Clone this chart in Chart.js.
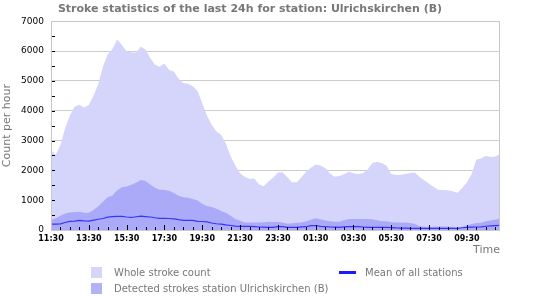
<!DOCTYPE html>
<html>
<head>
<meta charset="utf-8">
<script src="https://cdn.jsdelivr.net/npm/chart.js@4.4.1/dist/chart.umd.min.js"></script>
<style>
  html, body { margin: 0; padding: 0; background: #fff; }
  #wrap { position: relative; width: 550px; height: 300px; }
  #c { position: absolute; left: 0; top: 0; }
  .lg { position: absolute; font-family: "DejaVu Sans", sans-serif; font-size: 10px; color: #777; white-space: nowrap; line-height: 12px; }
  .sw { position: absolute; width: 11px; height: 11px; }
  .ln { position: absolute; width: 17px; height: 3px; background: #1a1aff; }
</style>
</head>
<body>
<div id="wrap">
  <canvas id="c" width="550" height="300"></canvas>
  <div class="sw" style="left:91px;top:267px;background:#d6d6fb;"></div>
  <div class="lg" style="left:114px;top:267px;">Whole stroke count</div>
  <div class="sw" style="left:91px;top:283px;background:#b2b2f7;"></div>
  <div class="lg" style="left:114px;top:283px;">Detected strokes station Ulrichskirchen (B)</div>
  <div class="ln" style="left:339px;top:271px;"></div>
  <div class="lg" style="left:365px;top:267px;">Mean of all stations</div>
</div>
<script>
const times = ["11:30","11:45","12:00","12:15","12:30","12:45","13:00","13:15","13:30","13:45","14:00","14:15","14:30","14:45","15:00","15:15","15:30","15:45","16:00","16:15","16:30","16:45","17:00","17:15","17:30","17:45","18:00","18:15","18:30","18:45","19:00","19:15","19:30","19:45","20:00","20:15","20:30","20:45","21:00","21:15","21:30","21:45","22:00","22:15","22:30","22:45","23:00","23:15","23:30","23:45","00:00","00:15","00:30","00:45","01:00","01:15","01:30","01:45","02:00","02:15","02:30","02:45","03:00","03:15","03:30","03:45","04:00","04:15","04:30","04:45","05:00","05:15","05:30","05:45","06:00","06:15","06:30","06:45","07:00","07:15","07:30","07:45","08:00","08:15","08:30","08:45","09:00","09:15","09:30","09:45","10:00","10:15","10:30","10:45","11:00","11:15"];

const tickLabels = ["11:30","13:30","15:30","17:30","19:30","21:30","23:30","01:30","03:30","05:30","07:30","09:30"];

const wholeCount = [2680,2520,2850,3420,3850,4130,4200,4110,4190,4510,4890,5480,5890,6070,6390,6200,5990,5950,5950,6140,6050,5770,5540,5475,
  5580,5360,5310,5070,4930,4900,4820,4660,4260,3830,3530,3300,3190,2900,2470,2160,1900,1780,1715,1725,1530,1465,1630,1750,
  1930,1940,1770,1605,1600,1770,1960,2085,2200,2165,2080,1905,1785,1810,1870,1955,1900,1875,1900,2025,2250,2290,2245,2150,
  1880,1840,1855,1875,1910,1925,1770,1665,1550,1440,1340,1340,1330,1300,1250,1410,1600,1880,2360,2400,2490,2450,2460,2540];

const detectedStation = [335,395,480,555,590,605,610,582,580,670,800,950,1100,1160,1330,1435,1455,1520,1580,1675,1640,1525,1415,1350,
  1340,1320,1240,1150,1100,1080,1040,985,880,805,770,710,635,575,475,370,310,255,255,255,255,260,280,265,
  275,255,210,225,240,255,290,340,390,360,320,290,280,280,330,365,370,370,370,370,360,330,295,290,
  260,255,255,250,235,200,125,110,110,112,117,118,112,110,95,110,160,200,235,245,290,320,345,385];

const meanAll = [200,200,205,250,290,298,325,305,300,330,360,385,430,450,460,455,435,420,445,468,450,435,410,390,
  390,385,375,345,325,325,325,290,285,270,235,210,195,170,150,130,120,120,120,110,100,95,90,90,
  110,110,90,90,90,105,110,145,150,120,110,100,95,90,105,110,110,110,100,90,90,90,90,90,
  80,70,65,60,55,55,55,55,55,55,55,55,55,55,50,75,90,95,100,105,125,135,145,155];

const yTickValues = [0,1000,2000,3000,4000,5000,6000,7000];

const FONT = '"DejaVu Sans", sans-serif';

const tickPlugin = {
  id: 'customTicks',
  afterDatasetsDraw(chart) {
    const ctx = chart.ctx;
    const xs = chart.scales.x, ys = chart.scales.y;
    const a = chart.chartArea;
    ctx.save();
    ctx.strokeStyle = '#000';
    ctx.lineWidth = 1;
    times.forEach((t, i) => {
      if (t.endsWith(':30') || t.endsWith(':00')) {
        const px = Math.round(xs.getPixelForValue(i)) + 0.5;
        const len = tickLabels.includes(t) ? 5 : 3;
        ctx.beginPath();
        ctx.moveTo(px, a.bottom);
        ctx.lineTo(px, a.bottom - len);
        ctx.stroke();
      }
    });
    for (let v = 500; v < 7000; v += 500) {
      const py = Math.round(ys.getPixelForValue(v)) + 0.5;
      ctx.beginPath();
      ctx.moveTo(a.left, py);
      ctx.lineTo(a.left + 4, py);
      ctx.stroke();
    }
    ctx.strokeStyle = '#c8c8c8';
    ctx.strokeRect(Math.round(a.left) + 0.5, Math.round(a.top) + 0.5, Math.round(a.right - a.left) - 1, Math.round(a.bottom - a.top));
    ctx.restore();
  }
};

new Chart(document.getElementById('c'), {
  type: 'line',
  data: {
    labels: times,
    datasets: [
      { label: 'Mean of all stations', data: meanAll, borderColor: '#3535ff', borderWidth: 1.2, pointRadius: 0, fill: false, tension: 0 },
      { label: 'Detected strokes station Ulrichskirchen (B)', data: detectedStation, borderWidth: 0, borderColor: 'rgba(0,0,0,0)', backgroundColor: '#aaaaf9', pointRadius: 0, fill: 'origin', tension: 0 },
      { label: 'Whole stroke count', data: wholeCount, borderWidth: 0, borderColor: 'rgba(0,0,0,0)', backgroundColor: '#d5d5fb', pointRadius: 0, fill: 'origin', tension: 0 }
    ]
  },
  options: {
    responsive: false,
    animation: false,
    layout: { padding: { left: 0, right: 50, top: 0, bottom: 43 } },
    plugins: {
      legend: { display: false },
      tooltip: { enabled: false },
      title: {
        display: true,
        text: 'Stroke statistics of the last 24h for station: Ulrichskirchen (B)',
        color: '#777',
        font: { family: FONT, size: 11, weight: 'bold' },
        padding: { top: 3, bottom: 5 }
      }
    },
    scales: {
      x: {
        type: 'category',
        offset: false,
        grid: { display: false, drawTicks: false },
        border: { display: false },
        ticks: {
          autoSkip: false, maxRotation: 0, minRotation: 0, padding: 4,
          color: '#000',
          font: { family: FONT, size: 8, weight: 'bold' },
          callback: function(v, i) { return tickLabels.includes(times[i]) ? times[i] : ''; }
        },
        title: { display: true, text: 'Time', align: 'end', color: '#777', font: { family: FONT, size: 11 }, padding: { top: 0, bottom: 0 } },
        afterFit(s) { s.height = 27; }
      },
      y: {
        type: 'linear',
        min: 0, max: 7000,
        afterBuildTicks(s) { s.ticks = yTickValues.map(v => ({ value: v })); },
        grid: { color: '#cccccc', drawTicks: false },
        border: { display: false },
        ticks: { padding: 7, color: '#000', font: { family: FONT, size: 9 }, callback: v => String(v) },
        title: { display: true, text: 'Count per hour', color: '#777', font: { family: FONT, size: 11 }, padding: { top: 1, bottom: 0 } },
        afterFit(s) { s.width = 51; }
      }
    }
  },
  plugins: [tickPlugin]
});
</script>
</body>
</html>
